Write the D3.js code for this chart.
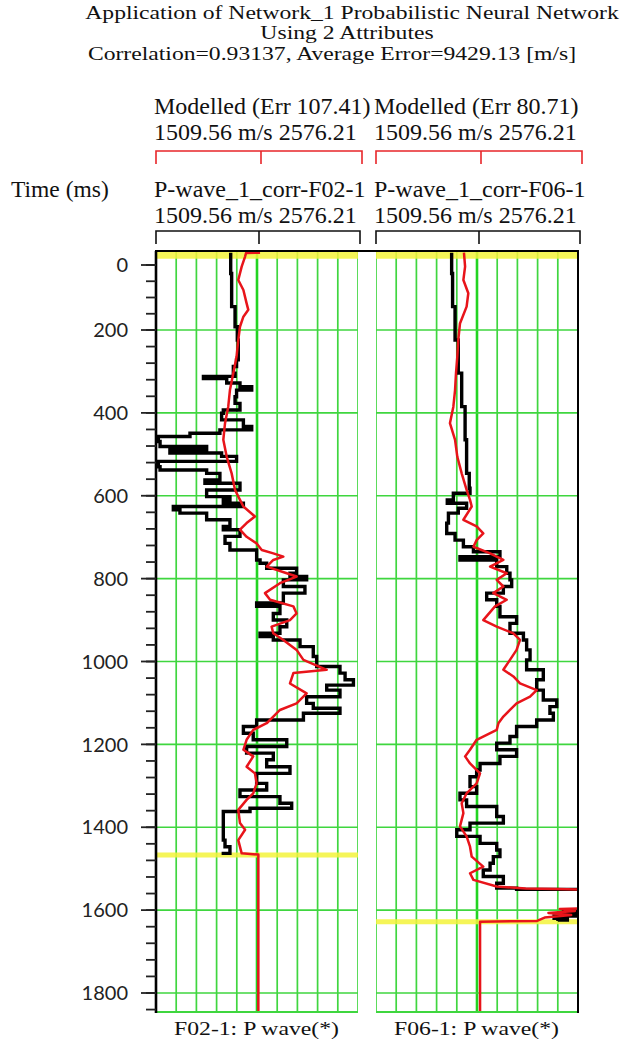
<!DOCTYPE html>
<html><head><meta charset="utf-8">
<script src="https://cdn.jsdelivr.net/npm/d3@7"></script>
<style>
html,body{margin:0;padding:0;background:#fff;}
svg{display:block;}
</style></head>
<body>
<svg id="chart" width="626" height="1040"></svg>
<script>
// ---------------- DATA ----------------
const titleLines = [
  "Application of Network_1 Probabilistic Neural Network",
  "Using 2 Attributes",
  "Correlation=0.93137, Average Error=9429.13 [m/s]"
];
const wells = ["F02-1", "F06-1"];
const modelledLabels = ["Modelled (Err 107.41)", "Modelled (Err 80.71)"];
const actualLabels = ["P-wave_1_corr-F02-1", "P-wave_1_corr-F06-1"];
const rangeLabel = "1509.56 m/s 2576.21";
const bottomLabels = ["F02-1: P wave(*)", "F06-1: P wave(*)"];
const velocityDomain = [1509.56, 2576.21];
const yTickValues = [0, 200, 400, 600, 800, 1000, 1200, 1400, 1600, 1800];
const yAxisTitle = "Time (ms)";
const topMarkerTime = -30;
const endMarkerTimes = [1467, 1628];

// [time (ms), velocity (m/s)]
const f02Actual = [
  [-38,1904],[26,1909],[128,1927],[190,1939],[224,1944],[272,1935],[288,1918],[304,1927],
  [312,1760],[317,1883],[328,1953],[337,2015],[345,1935],[361,1927],[377,1953],[393,1865],
  [401,1856],[417,1971],[433,2015],[441,1847],[449,1689],[457,1522],[469,1531],[481,1777],
  [489,1583],[497,1856],[505,1935],[517,1522],[530,1531],[538,1777],[546,1847],[562,1768],
  [570,1953],[586,1777],[602,1900],[610,1865],[618,1971],[626,1601],[634,1636],[642,1777],
  [658,1900],[674,1865],[682,1953],[698,1874],[715,1900],[731,2041],[755,2059],[763,2094],
  [775,2252],[787,2217],[795,2305],[803,2182],[819,2296],[835,2182],[859,2041],[867,2164],
  [884,2129],[900,2200],[916,2164],[932,2059],[940,2129],[948,2270],[964,2340],[988,2358],
  [1012,2481],[1028,2508],[1044,2552],[1057,2411],[1069,2481],[1085,2305],[1101,2340],
  [1113,2481],[1125,2288],[1141,2041],[1157,1971],[1173,2023],[1189,2200],[1205,1988],
  [1221,2129],[1237,2094],[1254,2217],[1270,2041],[1294,2094],[1310,1953],[1326,2164],
  [1342,2226],[1354,2006],[1362,1865],[1398,1865],[1431,1874],[1447,1900],[1463,1865],[1467,1865]
];
const f02Modelled = [
  [-38,2059],[-37,1985],[-26,1980],[5,1962],[46,1944],[77,1971],[118,1988],[138,1997],
  [159,1971],[190,1953],[224,1944],[264,1935],[304,1918],[345,1900],[385,1891],[425,1874],
  [465,1865],[506,1883],[546,1909],[586,1927],[610,1953],[626,1971],[650,2032],[666,1988],
  [682,1953],[699,1988],[715,2041],[731,2068],[739,2129],[747,2182],[755,2129],[771,2094],
  [787,2200],[795,2252],[811,2164],[835,2085],[851,2112],[867,2235],[884,2252],[900,2217],
  [916,2120],[932,2129],[948,2182],[972,2252],[996,2288],[1020,2411],[1028,2235],[1053,2217],
  [1077,2305],[1101,2252],[1117,2164],[1133,2129],[1149,2094],[1165,2023],[1189,1988],
  [1213,1971],[1229,2023],[1254,1988],[1270,2032],[1294,2041],[1318,2023],[1334,1988],
  [1358,1944],[1390,1953],[1406,1980],[1431,1944],[1463,1962],[1466,2050],[1846,2050]
];
const f06Actual = [
  [-38,1909],[26,1914],[128,1927],[224,1944],[304,1962],[385,1980],[465,1988],[546,2002],
  [582,2006],[594,1918],[610,1886],[618,1988],[630,1944],[642,1892],[666,1883],[691,1927],
  [707,1971],[723,2024],[735,2164],[747,1953],[755,2147],[771,2200],[787,2217],[803,2226],
  [819,2182],[835,2094],[851,2147],[867,2164],[892,2252],[908,2217],[932,2288],[948,2305],
  [972,2323],[996,2305],[1020,2393],[1044,2358],[1069,2393],[1093,2464],[1109,2428],
  [1125,2446],[1141,2358],[1157,2252],[1181,2217],[1197,2147],[1213,2252],[1229,2164],
  [1246,2059],[1262,2041],[1278,2006],[1302,2041],[1318,1953],[1334,1988],[1350,2147],
  [1374,2182],[1390,2006],[1406,1936],[1422,2059],[1439,2147],[1455,2164],[1471,2129],
  [1487,2112],[1503,2076],[1519,2182],[1535,2147],[1547,2252],[1550,2650],[1600,2650],
  [1602,2500],[1608,2570],[1614,2450],[1620,2520],[1624,2470],[1626,2470]
];
const f06Modelled = [
  [-38,1974],[5,1980],[46,1971],[87,1997],[128,1988],[180,1953],[224,1944],[264,1939],
  [304,1932],[345,1927],[385,1918],[425,1900],[465,1927],[506,1939],[546,1962],[586,1988],
  [610,2006],[626,2015],[658,1971],[674,2041],[691,2076],[707,2041],[723,2024],[739,2112],
  [755,2182],[771,2112],[787,2200],[803,2147],[819,2182],[835,2129],[851,2200],[867,2138],
  [900,2076],[916,2147],[932,2235],[948,2270],[972,2252],[996,2217],[1020,2182],[1036,2235],
  [1053,2270],[1069,2358],[1085,2323],[1101,2252],[1117,2217],[1133,2182],[1149,2156],
  [1165,2147],[1189,2041],[1213,2006],[1229,1980],[1246,2006],[1270,2059],[1294,2041],
  [1318,1988],[1342,1962],[1366,1971],[1398,1953],[1422,1988],[1447,2006],[1471,2015],
  [1495,2076],[1511,2006],[1527,2024],[1543,2147],[1548,2300],[1549,2464],[1551,2650],
  [1595,2650],[1597,2480],[1602,2560],[1607,2420],[1612,2540],[1618,2400],[1626,2360],
  [1628,2059],[1846,2059]
];
const actualSeries = [f02Actual, f06Actual];
const modelledSeries = [f02Modelled, f06Modelled];

// ---------------- LAYOUT ----------------
const svg = d3.select("#chart");
const serif = "'Liberation Serif','Times New Roman',serif";
const trackLeft = [156, 376];
const trackW = 202;
const trackTop = 251, trackBottom = 1012;

// time axis (label-unit scale, compressed above 200 as in the source display)
const y = d3.scaleLinear().domain([0, 200, 1800]).range([265, 330, 993]);

const green = "#3fd63f";

// Title (source text is vertically compressed)
const titleX = [352, 347, 332];
const titleY = [19, 39, 60];
svg.selectAll("text.title").data(titleLines).join("text")
  .attr("class","title")
  .attr("transform",(d,i)=>`translate(${titleX[i]},${titleY[i]}) scale(1,0.78)`)
  .attr("text-anchor","middle")
  .style("font-family",serif).style("font-size","23.65px").attr("fill","#111")
  .text(d=>d);

// y axis title
svg.append("text").attr("x",11).attr("y",197)
  .style("font-family",serif).style("font-size","23.5px").attr("fill","#111")
  .text(yAxisTitle);

wells.forEach((w, i) => {
  const x0 = trackLeft[i];
  const x = d3.scaleLinear().domain(velocityDomain).range([x0, x0 + trackW]);
  const g = svg.append("g");

  const hdr = (txt, yy) => g.append("text").attr("x", x0 - 2).attr("y", yy)
    .style("font-family",serif).style("font-size","24px").attr("fill","#111")
    .text(txt);
  hdr(modelledLabels[i], 114);
  hdr(rangeLabel, 140);
  hdr(actualLabels[i], 197);
  hdr(rangeLabel, 223);

  // brackets
  const mid = (velocityDomain[0] + velocityDomain[1]) / 2;
  const bracket = (yy, col, dx) => {
    const xs = [x(velocityDomain[0]), x(mid) + dx, x(velocityDomain[1]) + dx];
    g.append("path")
      .attr("d", `M${xs[0]},${yy+13}V${yy}H${xs[2]}V${yy+13}M${xs[1]},${yy}V${yy+13}`)
      .attr("fill","none").attr("stroke",col).attr("stroke-width",1.6);
  };
  bracket(151, "#e8262a", 4);
  bracket(231, "#111", 2);

  // clip
  const cid = "clip" + i;
  svg.append("clipPath").attr("id", cid).append("rect")
    .attr("x", x0).attr("y", trackTop).attr("width", trackW).attr("height", trackBottom - trackTop);

  const plot = g.append("g").attr("clip-path", `url(#${cid})`);

  // vertical grid
  const gridVals = d3.range(0, 11).map(k => velocityDomain[0] + k * (velocityDomain[1] - velocityDomain[0]) / 10);
  plot.selectAll("line.vg").data(gridVals).join("line")
    .attr("x1", d => x(d)).attr("x2", d => x(d))
    .attr("y1", trackTop).attr("y2", trackBottom)
    .attr("stroke", (d,k) => k === 5 ? "#22d422" : green)
    .attr("stroke-width", (d,k) => k === 5 ? 2.6 : 1.7);
  // horizontal grid
  const hVals = d3.range(200, 1801, 200);
  plot.selectAll("line.hg").data(hVals).join("line")
    .attr("x1", x0).attr("x2", x0 + trackW)
    .attr("y1", d => y(d)).attr("y2", d => y(d))
    .attr("stroke", green).attr("stroke-width", 1.7);

  // yellow markers
  [topMarkerTime, endMarkerTimes[i]].forEach((t, k) => {
    plot.append("line")
      .attr("x1", x0).attr("x2", x0 + trackW)
      .attr("y1", y(t)).attr("y2", y(t))
      .attr("stroke", "#f4f43c").attr("stroke-width", k === 0 ? 7 : 5).attr("opacity", 0.85);
  });

  // curves
  const lineA = d3.line().x(d => x(d[1])).y(d => y(d[0])).curve(d3.curveStepBefore);
  const lineM = d3.line().x(d => x(d[1])).y(d => y(d[0])).curve(d3.curveLinear);
  plot.append("path").datum(actualSeries[i])
    .attr("d", lineA).attr("fill","none").attr("stroke","#000")
    .attr("stroke-width", 3.4).attr("stroke-linejoin","miter");
  plot.append("path").datum(modelledSeries[i])
    .attr("d", lineM).attr("fill","none").attr("stroke","#e8141a")
    .attr("stroke-width", 2.5).attr("stroke-linejoin","round");

  // bottom border (green)
  g.append("line").attr("x1", x0).attr("x2", x0 + trackW)
    .attr("y1", trackBottom).attr("y2", trackBottom)
    .attr("stroke", green).attr("stroke-width", 2.2);

  // bottom label
  g.append("text").attr("x", x0 + trackW/2 - 83).attr("y", 1035)
    .attr("textLength", 165).attr("lengthAdjust", "spacingAndGlyphs")
    .style("font-family",serif).style("font-size","19px").attr("fill","#111")
    .text(bottomLabels[i]);
});

// borders
svg.append("line").attr("x1",trackLeft[0]-1).attr("x2",trackLeft[1]+trackW+1)
  .attr("y1",trackTop).attr("y2",trackTop).attr("stroke","#000").attr("stroke-width",2);
svg.append("line").attr("x1",trackLeft[1]+trackW).attr("x2",trackLeft[1]+trackW)
  .attr("y1",trackTop).attr("y2",trackBottom+1).attr("stroke","#000").attr("stroke-width",2);

// y axis
const minorTicks = d3.range(0, 200, 50).concat(d3.range(200, 1841, 40));
const axisG = svg.append("g");
axisG.append("line").attr("x1",trackLeft[0]).attr("x2",trackLeft[0])
  .attr("y1",trackTop).attr("y2",trackBottom+1).attr("stroke","#000").attr("stroke-width",2.6);
axisG.selectAll("line.minor").data(minorTicks).join("line")
  .attr("x1", trackLeft[0] - 10).attr("x2", trackLeft[0])
  .attr("y1", d => y(d)).attr("y2", d => y(d))
  .attr("stroke","#222").attr("stroke-width",1.8);
axisG.selectAll("line.major").data(yTickValues).join("line")
  .attr("x1", trackLeft[0] - 15).attr("x2", trackLeft[0])
  .attr("y1", d => y(d)).attr("y2", d => y(d))
  .attr("stroke","#222").attr("stroke-width",1.8);
axisG.selectAll("text.tick").data(yTickValues).join("text")
  .attr("x", 128).attr("y", d => y(d)).attr("dy","0.36em")
  .attr("text-anchor","end")
  .style("font-family","Lato, 'Open Sans', sans-serif").style("font-size","20px").attr("fill","#222")
  .text(d => d);
</script>
</body></html>
